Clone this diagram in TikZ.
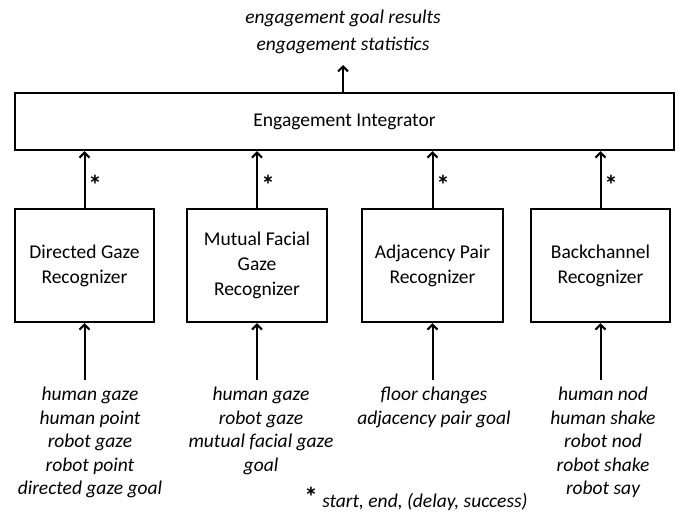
\documentclass[tikz,border=0pt]{standalone}
\usepackage{fontspec}
\setmainfont{Carlito}
\usetikzlibrary{arrows.meta}
\begin{document}
\begin{tikzpicture}[x=1pt,y=-1pt,
  box/.style={draw, line width=2.4pt, inner sep=0pt, align=center,
    font=\fontsize{19.5}{25}\selectfont},
  lbl/.style={align=center, inner sep=0pt,
    font=\fontsize{19.5}{23.5}\selectfont\itshape},
  star/.style={inner sep=0pt, font=\fontsize{27}{27}\selectfont\bfseries},
  arr/.style={line width=2pt, -{Straight Barb[length=5pt,width=10pt,line width=2pt]}}]
\useasboundingbox (0,0) rectangle (680,516);

% integrator and output
\node[box, minimum width=659pt, minimum height=57pt] (int) at (344.5,121.5) {Engagement Integrator};
\node[lbl, font=\fontsize{19.5}{27}\selectfont\itshape] (out) at (343,31.5) {engagement goal results\\engagement statistics};
\coordinate (otip) at (343,65);
\draw[arr] (otip |- int.north) -- (otip);

% recognizers
\node[box, minimum width=139pt, minimum height=113pt] (r1) at (84.5,265.5) {Directed Gaze\\Recognizer};
\node[box, minimum width=140pt, minimum height=113pt] (r2) at (257,265.5) {Mutual Facial\\Gaze\\Recognizer};
\node[box, minimum width=141pt, minimum height=113pt] (r3) at (432.5,265.5) {Adjacency Pair\\Recognizer};
\node[box, minimum width=139pt, minimum height=113pt] (r4) at (600.5,265.5) {Backchannel\\Recognizer};

% arrows up to integrator with stars
\foreach \r in {r1,r2,r3,r4}{
  \draw[arr] (\r.north) -- (\r.north |- int.south);
}
\node[star] (s1) at (95,185) {*};
\node[star] (s2) at (268,185) {*};
\node[star] (s3) at (443,185) {*};
\node[star] (s4) at (611,185) {*};

% inputs
\coordinate (b1) at (84.5,380);
\coordinate (b2) at (257,380);
\coordinate (b3) at (432.5,380);
\coordinate (b4) at (600.5,380);
\draw[arr] (b1) -- (r1.south);
\draw[arr] (b2) -- (r2.south);
\draw[arr] (b3) -- (r3.south);
\draw[arr] (b4) -- (r4.south);

\node[lbl, anchor=north] (l1) at (90,387) {human gaze\\human point\\robot gaze\\robot point\\directed gaze goal};
\node[lbl, anchor=north] (l2) at (261,387) {human gaze\\robot gaze\\mutual facial gaze\\goal};
\node[lbl, anchor=north] (l3) at (434,387) {floor changes\\adjacency pair goal};
\node[lbl, anchor=north] (l4) at (603,387) {human nod\\human shake\\robot nod\\robot shake\\robot say};

\node[lbl, anchor=base] (note) at (416,507) {\raisebox{1pt}{\upshape\bfseries\fontsize{27}{27}\selectfont *} start, end, (delay, success)};
\end{tikzpicture}
\end{document}
